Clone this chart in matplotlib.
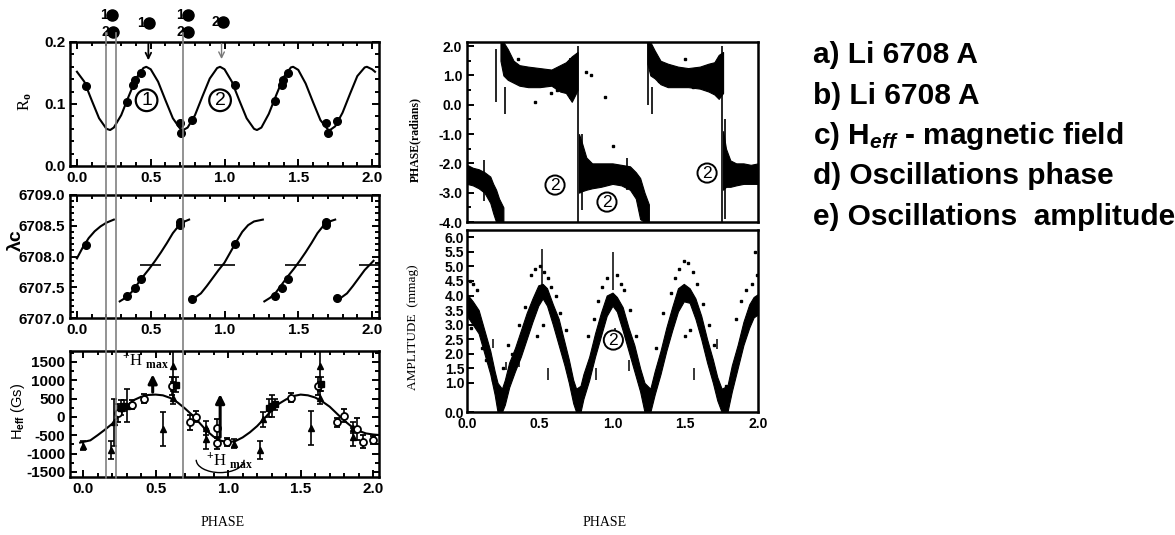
"""
Li 6708 / H_eff / oscillations vs rotation phase
"""

import numpy as np
import matplotlib
matplotlib.use('Agg')
import matplotlib.pyplot as plt
import matplotlib.transforms as mtransforms
from matplotlib.lines import Line2D
from matplotlib.patches import Arc
from matplotlib.ticker import MultipleLocator, FormatStrFormatter, FixedLocator

plt.rcParams['font.family'] = ['Liberation Sans', 'DejaVu Sans']
plt.rcParams['font.weight'] = 'bold'
plt.rcParams['mathtext.fontset'] = 'custom'
plt.rcParams['mathtext.rm'] = 'Liberation Serif'
plt.rcParams['mathtext.it'] = 'Liberation Sans:italic:bold'
plt.rcParams['mathtext.bf'] = 'Liberation Serif:bold'
plt.rcParams['mathtext.sf'] = 'Liberation Sans'

# ---- a) R_o -------------------------------------------------------------
ro_curve_x = [0.00, 0.05, 0.10, 0.15, 0.20, 0.225, 0.25, 0.30, 0.35, 0.40, 0.45, 0.47, 0.50,
              0.55, 0.60, 0.65, 0.70, 0.72, 0.75, 0.80, 0.85, 0.90, 0.95, 0.97, 1.00,
              1.05, 1.10, 1.15, 1.20, 1.22, 1.25, 1.30, 1.35, 1.40, 1.45, 1.465, 1.50,
              1.55, 1.60, 1.65, 1.70, 1.715, 1.75, 1.80, 1.85, 1.90, 1.95, 1.965, 2.00, 2.02]
ro_curve_y = [0.152, 0.136, 0.106, 0.077, 0.060, 0.058, 0.062, 0.082, 0.112, 0.141, 0.158, 0.160, 0.156,
              0.136, 0.106, 0.077, 0.060, 0.058, 0.062, 0.082, 0.112, 0.141, 0.158, 0.160, 0.156,
              0.136, 0.106, 0.077, 0.060, 0.058, 0.062, 0.084, 0.114, 0.143, 0.159, 0.160, 0.155,
              0.133, 0.103, 0.074, 0.059, 0.058, 0.064, 0.086, 0.116, 0.145, 0.159, 0.160, 0.156, 0.152]
ro_pts_x = [0.061, 0.337, 0.382, 0.393, 0.432, 0.698, 0.703, 0.778, 1.071,
            1.342, 1.388, 1.399, 1.433, 1.688, 1.700, 1.765]
ro_pts_y = [0.129, 0.104, 0.131, 0.139, 0.150, 0.069, 0.054, 0.074, 0.131,
            0.105, 0.131, 0.139, 0.150, 0.069, 0.054, 0.073]
top_dot_x = [0.237, 0.244, 0.488, 0.753, 0.753, 0.990]
top_dot_y = [0.244, 0.216, 0.231, 0.244, 0.216, 0.232]
top_dot_lbl = ['1', '2', '1', '1', '2', '2']
phase_marks = [0.197, 0.264, 0.719]

# ---- b) lambda_c --------------------------------------------------------
lam1_x = [0.00, 0.04, 0.08, 0.12, 0.16, 0.20, 0.25]
lam1_y = [6707.97, 6708.15, 6708.30, 6708.41, 6708.49, 6708.55, 6708.60]
lam2_x = [0.29, 0.33, 0.37, 0.41, 0.45, 0.49, 0.53, 0.57, 0.61, 0.65, 0.69, 0.72, 0.76]
lam2_y = [6707.27, 6707.33, 6707.42, 6707.55, 6707.68, 6707.80, 6707.93, 6708.07, 6708.22,
          6708.38, 6708.50, 6708.56, 6708.60]
lam3_x = [0.77, 0.80, 0.84, 0.88, 0.92, 0.96, 1.00, 1.04, 1.08, 1.12, 1.16, 1.20, 1.26]
lam3_y = [6707.30, 6707.33, 6707.40, 6707.52, 6707.65, 6707.78, 6707.90, 6708.07, 6708.24,
          6708.40, 6708.51, 6708.57, 6708.60]
lam4_x = [1.27, 1.31, 1.35, 1.39, 1.43, 1.47, 1.51, 1.55, 1.59, 1.63, 1.67, 1.70, 1.75]
lam4_y = [6707.27, 6707.33, 6707.42, 6707.55, 6707.68, 6707.80, 6707.93, 6708.07, 6708.22,
          6708.38, 6708.50, 6708.56, 6708.60]
lam5_x = [1.76, 1.79, 1.83, 1.87, 1.91, 1.95, 2.01]
lam5_y = [6707.30, 6707.33, 6707.40, 6707.52, 6707.65, 6707.78, 6707.93]
lam_pts_x = [0.061, 0.34, 0.393, 0.434, 0.698, 0.70, 0.778, 1.071,
             1.342, 1.388, 1.427, 1.688, 1.69, 1.762]
lam_pts_y = [6708.19, 6707.35, 6707.48, 6707.63, 6708.51, 6708.56, 6707.31, 6708.21,
             6707.36, 6707.48, 6707.63, 6708.51, 6708.56, 6707.33]
lam_bar_x = [0.50, 1.00, 1.48, 1.98]
lam_bar_y = [6707.86, 6707.86, 6707.86, 6707.86]

# ---- c) H_eff -----------------------------------------------------------
heff_x = [-0.02, 0.05, 0.10, 0.15, 0.20, 0.25, 0.30, 0.35, 0.40, 0.45, 0.50, 0.55, 0.60,
          0.65, 0.70, 0.75, 0.80, 0.85, 0.90, 0.95, 1.00, 1.05, 1.10, 1.15, 1.20, 1.25,
          1.30, 1.35, 1.40, 1.45, 1.50, 1.55, 1.60, 1.65, 1.70, 1.75, 1.80, 1.85, 1.90,
          1.95, 2.00, 2.03]
heff_y = [-700, -640, -500, -350, -190, 50, 300, 460, 550, 600, 610, 590, 520,
          400, 240, 60, -150, -370, -540, -650, -690, -660, -560, -420, -250, -40,
          180, 360, 480, 570, 610, 590, 530, 420, 280, 90, -100, -260, -380,
          -450, -480, -490]
tri_x = [0.00, 0.19, 0.21, 0.30, 0.55, 0.62, 0.62, 0.85, 0.85, 1.04, 1.22, 1.24, 1.57, 1.63, 1.63, 1.86, 1.86]
tri_y = [-780, -900, -150, 300, -320, 1400, 520, -300, -600, -730, -900, -70, -310, 1400, 520, -300, -550]
tri_e = [120, 250, 650, 450, 460, 450, 180, 200, 280, 120, 250, 200, 460, 450, 180, 150, 250]
cir_x = [0.24, 0.34, 0.42, 0.61, 0.74, 0.78, 0.92, 0.92, 0.99, 1.43, 1.62, 1.75, 1.80, 1.89, 1.93, 2.00]
cir_y = [100, 330, 500, 850, -150, 0, -310, -720, -680, 520, 850, -150, 30, -330, -680, -630]
cir_e = [250, 120, 130, 250, 200, 150, 250, 150, 100, 120, 250, 120, 180, 300, 180, 120]
sq_x = [0.26, 0.28, 0.64, 1.28, 1.30, 1.32, 1.64]
sq_y = [250, 300, 880, 250, 300, 350, 900]
sq_e = [200, 150, 200, 250, 300, 150, 200]
hmax_x = [0.48, 0.945]
hmax_from = [600, -630]
hmax_to = [1240, 700]

# ---- d) oscillation phase (dense point cloud, read as bands) -------------
ph1_x = [0.00, 0.04, 0.08, 0.12, 0.16, 0.18, 0.20, 0.22, 0.25]
ph1_hi = [-2.05, -2.15, -2.20, -2.30, -2.45, -2.70, -2.90, -3.20, -3.50]
ph1_lo = [-2.70, -2.75, -2.85, -3.00, -3.35, -3.70, -4.00, -4.00, -4.00]
ph2_x = [0.23, 0.25, 0.28, 0.32, 0.36, 0.42, 0.50, 0.58, 0.64, 0.68, 0.72, 0.76]
ph2_hi = [2.14, 2.14, 1.90, 1.50, 1.35, 1.30, 1.25, 1.20, 1.35, 1.45, 1.65, 1.80]
ph2_lo = [1.50, 1.00, 0.85, 0.75, 0.65, 0.60, 0.60, 0.65, 0.45, 0.40, 0.10, 0.50]
ph3_x = [0.77, 0.79, 0.82, 0.86, 0.92, 1.00, 1.06, 1.12, 1.16, 1.19, 1.22, 1.25]
ph3_hi = [-1.00, -1.30, -1.80, -2.00, -2.00, -2.00, -2.05, -2.10, -2.30, -2.50, -3.00, -3.40]
ph3_lo = [-3.00, -2.95, -2.90, -2.85, -2.80, -2.70, -2.75, -2.90, -3.20, -3.90, -4.00, -4.00]
ph4_x = [1.24, 1.26, 1.29, 1.33, 1.38, 1.45, 1.52, 1.60, 1.66, 1.70, 1.73, 1.76]
ph4_hi = [2.14, 2.14, 1.85, 1.50, 1.40, 1.30, 1.25, 1.30, 1.40, 1.45, 1.70, 1.80]
ph4_lo = [1.40, 1.00, 0.90, 0.70, 0.60, 0.60, 0.60, 0.55, 0.45, 0.35, 0.20, 0.40]
ph5_x = [1.76, 1.78, 1.81, 1.85, 1.90, 1.95, 2.00]
ph5_hi = [-0.90, -1.50, -1.90, -2.00, -2.00, -2.05, -2.00]
ph5_lo = [-2.90, -2.80, -2.80, -2.75, -2.70, -2.70, -2.70]
ph_spike_x = [0.20, 0.26, 0.765, 0.79, 1.245, 1.27, 1.75, 1.77, 0.71, 0.12, 1.10]
ph_spike_lo = [0.1, -0.3, -4.0, -3.6, 0.0, -0.3, -4.0, -3.9, 0.2, -3.3, -2.9]
ph_spike_hi = [1.9, 0.6, 2.0, -1.0, 2.1, 0.6, 2.0, -0.5, 1.6, -1.9, -1.8]
ph_dot_x = [0.35, 0.47, 0.58, 0.62, 0.82, 0.85, 0.95, 1.00, 1.32, 1.50, 1.55]
ph_dot_y = [1.55, 0.10, 0.40, 0.50, 1.10, 1.00, 0.25, -1.40, 0.80, 1.55, 0.60]

# ---- e) oscillation amplitude -------------------------------------------
amp_x = [0.00, 0.04, 0.08, 0.12, 0.16, 0.19, 0.21, 0.24, 0.26, 0.29, 0.33, 0.37, 0.41, 0.45,
         0.49, 0.52, 0.55, 0.59, 0.63, 0.67, 0.70, 0.73, 0.75, 0.78, 0.80, 0.84, 0.88, 0.92,
         0.96, 1.00, 1.03, 1.07, 1.11, 1.15, 1.19, 1.22, 1.26, 1.29, 1.33, 1.37, 1.41, 1.45,
         1.49, 1.53, 1.57, 1.61, 1.65, 1.69, 1.72, 1.75, 1.79, 1.82, 1.86, 1.90, 1.94, 1.97, 2.00]
amp_lo = [3.30, 3.00, 2.70, 2.00, 1.30, 0.60, 0.00, 0.00, 0.25, 0.85, 1.40, 1.90, 2.50, 3.10,
          3.65, 3.90, 3.65, 3.00, 2.30, 1.60, 1.00, 0.30, 0.00, 0.00, 0.45, 1.10, 1.90, 2.60,
          3.30, 3.65, 3.45, 2.80, 2.10, 1.40, 0.70, 0.00, 0.00, 0.60, 1.30, 2.10, 2.80, 3.45,
          3.80, 3.75, 3.20, 2.50, 1.70, 1.00, 0.40, 0.00, 0.00, 0.70, 1.50, 2.30, 2.90, 3.25, 3.35]
amp_hi = [4.05, 3.80, 3.50, 2.80, 2.10, 1.40, 1.00, 0.80, 1.10, 1.70, 2.20, 2.80, 3.40, 3.90,
          4.35, 4.40, 4.25, 3.70, 3.20, 2.40, 1.80, 1.10, 0.80, 0.90, 1.30, 1.90, 2.70, 3.40,
          4.00, 4.10, 3.95, 3.60, 2.90, 2.30, 1.50, 1.00, 0.80, 1.40, 2.10, 2.90, 3.60, 4.25,
          4.40, 4.25, 3.90, 3.30, 2.50, 1.80, 1.20, 0.80, 0.90, 1.60, 2.30, 3.10, 3.70, 3.95, 4.05]
amp_dot_x = [0.02, 0.04, 0.07, 0.03, 0.10, 0.13, 0.18, 0.28, 0.31, 0.36, 0.40, 0.44, 0.47, 0.50,
             0.53, 0.56, 0.58, 0.61, 0.64, 0.68, 0.48, 0.52, 0.83, 0.87, 0.90, 0.93, 0.96, 1.03,
             1.06, 1.08, 1.12, 1.16, 1.30, 1.35, 1.40, 1.43, 1.46, 1.49, 1.52, 1.55, 1.58, 1.62,
             1.66, 1.50, 1.53, 1.85, 1.88, 1.92, 1.96, 1.99, 1.98, 1.70, 1.78, 0.25]
amp_dot_y = [4.50, 4.40, 4.20, 2.90, 2.20, 1.80, 1.10, 2.30, 2.00, 3.00, 3.60, 4.70, 4.90, 5.00,
             4.80, 4.60, 4.30, 4.00, 3.40, 2.80, 2.60, 3.00, 2.60, 3.20, 3.80, 4.30, 4.60, 4.70,
             4.40, 4.20, 3.50, 2.60, 2.20, 3.40, 4.10, 4.60, 4.90, 5.20, 5.10, 4.80, 4.40, 3.70,
             3.00, 2.60, 2.80, 3.20, 3.80, 4.20, 4.40, 4.70, 5.50, 2.30, 0.90, 1.50]
amp_spike_x = [0.517, 1.00, 0.18, 0.27, 0.36, 0.56, 0.89, 1.11, 1.56, 1.72, 1.02]
amp_spike_lo = [4.30, 4.20, 2.20, 1.45, 1.55, 1.10, 1.10, 1.40, 1.10, 2.15, 2.60]
amp_spike_hi = [5.60, 5.50, 2.50, 1.70, 1.80, 1.50, 1.50, 1.80, 1.50, 2.50, 2.90]

# ------------------------------------------------------------------------
W, H = 1175, 535
fig = plt.figure(figsize=(W / 100, H / 100), dpi=100)


def add_box(left, top, right, bottom):
    """axes placed by pixel edges"""
    return fig.add_axes([left / W, 1 - bottom / H, (right - left) / W, (bottom - top) / H])


def style_axes(ax, size, both_sides=True):
    for sp in ax.spines.values():
        sp.set_linewidth(1.8)
    ax.tick_params(which='both', direction='in', top=both_sides, right=both_sides,
                   labelsize=size, width=1.4)
    ax.tick_params(which='major', length=5)
    ax.tick_params(which='minor', length=3)


ax_a = add_box(70, 42, 379, 166)
ax_b = add_box(70, 195, 379, 318)
ax_c = add_box(70, 351, 379, 477)
ax_d = add_box(467, 42, 758, 222)
ax_e = add_box(467, 230, 758, 412)

# a)
ax_a.plot(ro_curve_x, ro_curve_y, color='k', lw=1.5)
ax_a.plot(ro_pts_x, ro_pts_y, 'o', color='k', ms=5.5)
ax_a.set_xlim(-0.047, 2.047)
ax_a.set_ylim(0, 0.2)
ax_a.xaxis.set_major_locator(MultipleLocator(0.5))
ax_a.xaxis.set_minor_locator(MultipleLocator(0.1))
ax_a.yaxis.set_major_locator(MultipleLocator(0.1))
ax_a.yaxis.set_minor_locator(MultipleLocator(0.02))
ax_a.xaxis.set_major_formatter(FormatStrFormatter('%.1f'))
ax_a.yaxis.set_major_formatter(FormatStrFormatter('%.1f'))
style_axes(ax_a, 11)
for x, y, lbl in zip(top_dot_x, top_dot_y, top_dot_lbl):
    ax_a.plot(x, y, 'o', color='k', ms=8, clip_on=False)
    ax_a.annotate(lbl, (x, y), xytext=(-3, 0), textcoords='offset points',
                  ha='right', va='center', fontsize=10, annotation_clip=False)
ax_a.annotate('', xy=(0.484, 0.166), xytext=(0.484, 0.202),
              arrowprops=dict(arrowstyle='->', lw=1.3, color='k'), annotation_clip=False)
ax_a.annotate('', xy=(0.98, 0.168), xytext=(0.98, 0.202),
              arrowprops=dict(arrowstyle='->', lw=1.0, color='#777777'), annotation_clip=False)
circ = dict(boxstyle='circle,pad=0.12', fc='white', ec='black', lw=1.6)
ax_a.text(0.472, 0.106, '1', ha='center', va='center', fontsize=14, fontweight='normal', bbox=circ)
ax_a.text(0.97, 0.106, '2', ha='center', va='center', fontsize=14, fontweight='normal', bbox=circ)

# b)
for sx, sy in [(lam1_x, lam1_y), (lam2_x, lam2_y), (lam3_x, lam3_y), (lam4_x, lam4_y), (lam5_x, lam5_y)]:
    ax_b.plot(sx, sy, color='k', lw=1.5)
ax_b.plot(lam_pts_x, lam_pts_y, 'o', color='k', ms=5.5)
ax_b.hlines(lam_bar_y, np.array(lam_bar_x) - 0.07, np.array(lam_bar_x) + 0.07, color='k', lw=1.2)
ax_b.set_xlim(-0.047, 2.047)
ax_b.set_ylim(6707.0, 6709.0)
ax_b.xaxis.set_major_locator(MultipleLocator(0.5))
ax_b.xaxis.set_minor_locator(MultipleLocator(0.1))
ax_b.yaxis.set_major_locator(MultipleLocator(0.5))
ax_b.yaxis.set_minor_locator(MultipleLocator(0.1))
ax_b.xaxis.set_major_formatter(FormatStrFormatter('%.1f'))
ax_b.yaxis.set_major_formatter(FormatStrFormatter('%.1f'))
style_axes(ax_b, 11)

# c)
ax_c.plot(heff_x, heff_y, color='k', lw=1.5)
eb = dict(ls='none', color='k', elinewidth=1.2, capsize=2.5, capthick=1.2)
ax_c.errorbar(tri_x, tri_y, yerr=tri_e, fmt='^', ms=4, **eb)
ax_c.errorbar(cir_x, cir_y, yerr=cir_e, fmt='o', ms=5, mfc='white', mec='k', mew=1.3, **eb)
ax_c.errorbar(sq_x, sq_y, yerr=sq_e, fmt='s', ms=4, **eb)
for x, y0, y1 in zip(hmax_x, hmax_from, hmax_to):
    ax_c.annotate('', xy=(x, y1), xytext=(x, y0),
                  arrowprops=dict(arrowstyle='-|>', lw=2.2, color='k', mutation_scale=13))
ax_c.text(0.27, 1560, r'$^{+}$H $_{\bf max}$', fontsize=12, family='Liberation Serif',
          fontweight='normal', va='center')
ax_c.text(0.85, -1170, r'$^{+}$H $_{\bf max}$', fontsize=12, family='Liberation Serif',
          fontweight='normal', va='center')
ax_c.add_patch(Arc((0.945, -1170), 0.33, 700, theta1=150, theta2=30, lw=1.0, color='k'))
ax_c.set_xlim(-0.09, 2.04)
ax_c.set_ylim(-1640, 1800)
ax_c.xaxis.set_major_locator(MultipleLocator(0.5))
ax_c.xaxis.set_minor_locator(MultipleLocator(0.1))
ax_c.yaxis.set_major_locator(MultipleLocator(500))
ax_c.yaxis.set_minor_locator(MultipleLocator(250))
ax_c.xaxis.set_major_formatter(FormatStrFormatter('%.1f'))
ax_c.yaxis.set_major_formatter(FormatStrFormatter('%d'))
style_axes(ax_c, 11)

# gray phase markers through the three left panels
trans = mtransforms.blended_transform_factory(ax_a.transData, fig.transFigure)
for xm in phase_marks:
    fig.add_artist(Line2D([xm, xm], [1 - 33 / H, 1 - 478 / H], transform=trans,
                          color='#808080', lw=1.2))

# d)
for sx, lo, hi in [(ph1_x, ph1_lo, ph1_hi), (ph2_x, ph2_lo, ph2_hi), (ph3_x, ph3_lo, ph3_hi),
                   (ph4_x, ph4_lo, ph4_hi), (ph5_x, ph5_lo, ph5_hi)]:
    ax_d.fill_between(sx, lo, hi, color='k', lw=0.8)
ax_d.vlines(ph_spike_x, ph_spike_lo, ph_spike_hi, color='k', lw=1.2)
ax_d.plot(ph_dot_x, ph_dot_y, 's', color='k', ms=1.5)
circ_s = dict(boxstyle='circle,pad=0.12', fc='white', ec='black', lw=1.4)
for x, y in [(0.605, -2.74), (0.962, -3.32), (1.65, -2.33)]:
    ax_d.text(x, y, '2', ha='center', va='center', fontsize=12.5, fontweight='normal', bbox=circ_s)
ax_d.set_xlim(0, 2)
ax_d.set_ylim(-4.0, 2.14)
ax_d.set_xticks([])
ax_d.yaxis.set_major_locator(MultipleLocator(1.0))
ax_d.yaxis.set_minor_locator(MultipleLocator(0.5))
ax_d.yaxis.set_major_formatter(FormatStrFormatter('%.1f'))
style_axes(ax_d, 10, both_sides=False)

# e)
ax_e.fill_between(amp_x, amp_lo, amp_hi, color='k', lw=0.8)
ax_e.plot(amp_dot_x, amp_dot_y, 's', color='k', ms=1.8)
ax_e.vlines(amp_spike_x, amp_spike_lo, amp_spike_hi, color='k', lw=1.1)
ax_e.text(1.006, 2.47, '2', ha='center', va='center', fontsize=12.5, fontweight='normal', bbox=circ_s)
ax_e.set_xlim(0, 2)
ax_e.set_ylim(0, 6.25)
ax_e.xaxis.set_major_locator(MultipleLocator(0.5))
ax_e.xaxis.set_major_formatter(FormatStrFormatter('%.1f'))
ax_e.yaxis.set_major_locator(FixedLocator([0.0, 1.0, 1.5, 2.0, 2.5, 3.0, 3.5, 4.0, 4.5, 5.0, 5.5, 6.0]))
ax_e.yaxis.set_major_formatter(FormatStrFormatter('%.1f'))
style_axes(ax_e, 10, both_sides=False)
ax_e.tick_params(axis='x', length=0)
ax_e.tick_params(axis='y', pad=2)

# axis labels (placed by pixel position)
def ftext(px, py, s, **kw):
    fig.text(px / W, 1 - py / H, s, ha='center', va='center', **kw)


ftext(25, 102, r'R$_{\rm o}$', rotation=90, fontsize=12, family='Liberation Serif', fontweight='normal')
ftext(16, 240, 'λc', rotation=90, fontsize=14)
ftext(18, 411, r'H$_{\mathsf{eff}}$ (Gs)', rotation=90, fontsize=10.5, fontweight='normal')
ftext(223, 523, 'PHASE', fontsize=10, family='Liberation Serif', fontweight='normal')
ftext(605, 523, 'PHASE', fontsize=10, family='Liberation Serif', fontweight='normal')
ftext(415, 140, 'PHASE(radians)', rotation=90, fontsize=8.5, family='Liberation Serif')
ftext(413, 327, 'AMPLITUDE  (mmag)', rotation=90, fontsize=9.5, family='Liberation Serif',
      fontweight='normal')

legend_lines = ['a) Li 6708 A', 'b) Li 6708 A', r'c) H$_{eff}$ - magnetic field',
                'd) Oscillations phase', 'e) Oscillations  amplitude']
for i, s in enumerate(legend_lines):
    fig.text(813 / W, 1 - (55 + 40.5 * i) / H, s, ha='left', va='center', fontsize=21.5)

fig.savefig('out.png', dpi=100)
